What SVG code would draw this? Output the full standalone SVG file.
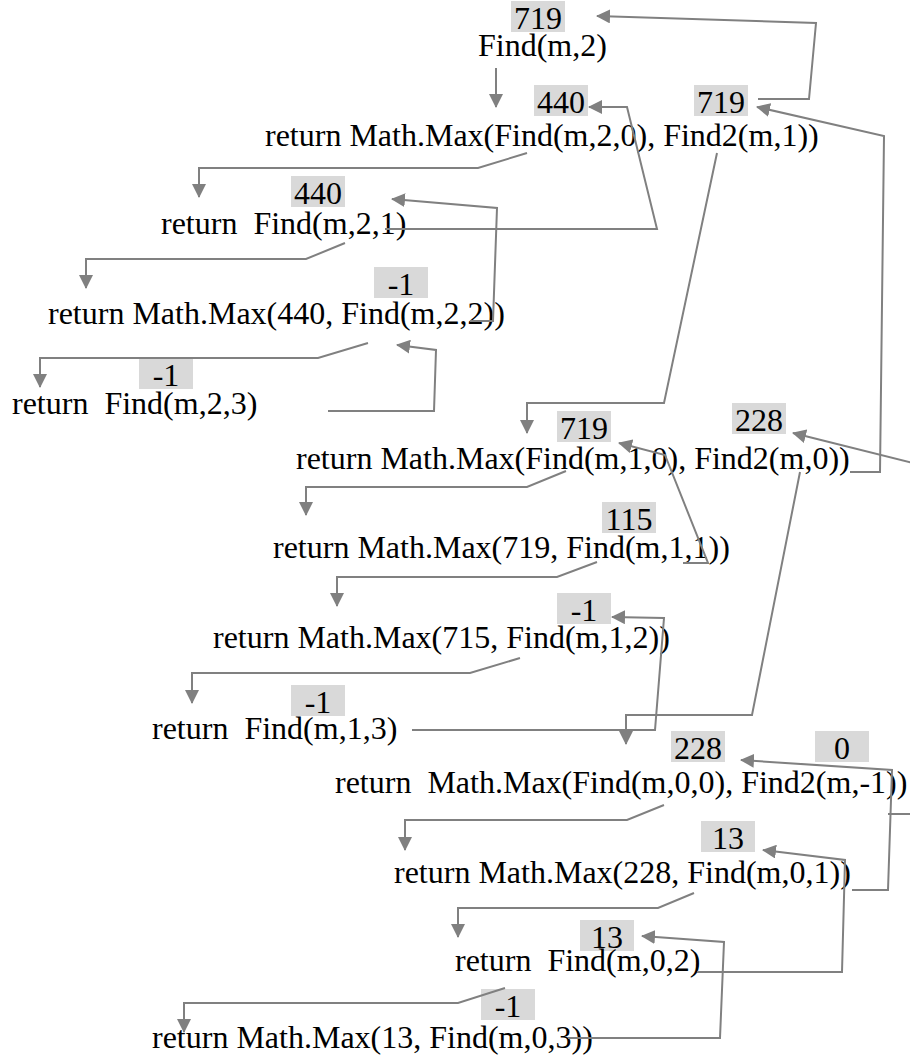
<svg xmlns="http://www.w3.org/2000/svg" width="910" height="1055" viewBox="0 0 910 1055">
<style>
text{font-family:"Liberation Serif","Times New Roman",serif;font-size:32px;fill:#000;white-space:pre}
.lbl{fill:#d9d9d9}
.v{text-anchor:middle}
.c{fill:none;stroke:#808080;stroke-width:2;marker-end:url(#ah)}
.s{fill:none;stroke:#808080;stroke-width:2}
</style>
<defs>
<marker id="ah" markerUnits="userSpaceOnUse" markerWidth="14" markerHeight="14" viewBox="0 0 14 14" refX="13" refY="7" orient="auto">
<path d="M0,0 L14,7 L0,14 z" fill="#808080"/>
</marker>
</defs>
<rect width="910" height="1055" fill="#fff"/>

<g id="n1">
<rect class="lbl" x="511" y="1" width="54" height="31"/><text class="v" x="538" y="29">719</text>
<text x="478" y="56">Find(m,2)</text>
</g>
<g id="n2">
<rect class="lbl" x="534" y="85" width="54" height="31"/><text class="v" x="561" y="113">440</text>
<rect class="lbl" x="694" y="85" width="54" height="31"/><text class="v" x="721" y="113">719</text>
<text x="265" y="146">return Math.Max(Find(m,2,0), Find2(m,1))</text>
</g>
<g id="n3">
<rect class="lbl" x="291" y="176" width="54" height="31"/><text class="v" x="318" y="204">440</text>
<text x="161" y="234" xml:space="preserve">return  Find(m,2,1)</text>
</g>
<g id="n4">
<rect class="lbl" x="374" y="267" width="54" height="31"/><text class="v" x="401" y="295">-1</text>
<text x="48" y="324">return Math.Max(440, Find(m,2,2))</text>
</g>
<g id="n5">
<rect class="lbl" x="139" y="358" width="54" height="31"/><text class="v" x="166" y="386">-1</text>
<text x="12" y="414" xml:space="preserve">return  Find(m,2,3)</text>
</g>
<g id="n6">
<rect class="lbl" x="557" y="411" width="54" height="31"/><text class="v" x="584" y="439">719</text>
<rect class="lbl" x="732" y="403" width="54" height="31"/><text class="v" x="759" y="431">228</text>
<text x="296" y="469">return Math.Max(Find(m,1,0), Find2(m,0))</text>
</g>
<g id="n7">
<rect class="lbl" x="602" y="502" width="54" height="31"/><text class="v" x="629" y="530">115</text>
<text x="273" y="558">return Math.Max(719, Find(m,1,1))</text>
</g>
<g id="n8">
<rect class="lbl" x="557" y="593" width="54" height="31"/><text class="v" x="584" y="621">-1</text>
<text x="213" y="648">return Math.Max(715, Find(m,1,2))</text>
</g>
<g id="n9">
<rect class="lbl" x="291" y="685" width="54" height="31"/><text class="v" x="318" y="713">-1</text>
<text x="152" y="739" xml:space="preserve">return  Find(m,1,3)</text>
</g>
<g id="n10">
<rect class="lbl" x="671" y="731" width="54" height="31"/><text class="v" x="698" y="759">228</text>
<rect class="lbl" x="815" y="731" width="54" height="31"/><text class="v" x="842" y="759">0</text>
<text x="335" y="793" xml:space="preserve">return  Math.Max(Find(m,0,0), Find2(m,-1))</text>
</g>
<g id="n11">
<rect class="lbl" x="701" y="821" width="54" height="31"/><text class="v" x="728" y="849">13</text>
<text x="394" y="883">return Math.Max(228, Find(m,0,1))</text>
</g>
<g id="n12">
<rect class="lbl" x="580" y="920" width="54" height="31"/><text class="v" x="607" y="948">13</text>
<text x="455" y="971" xml:space="preserve">return  Find(m,0,2)</text>
</g>
<g id="n13">
<rect class="lbl" x="481" y="989" width="54" height="31"/><text class="v" x="508" y="1017">-1</text>
<text x="152" y="1048">return Math.Max(13, Find(m,0,3))</text>
</g>

<g id="connectors">
<path class="c" d="M496,68 L496,107"/>
<path class="c" d="M758,99 L809,99 L816,23 L597,16"/>
<path class="c" d="M527,153 L478,168 L199,168 L199,197"/>
<path class="c" d="M385,229 L657,229 L627,107 L589,107"/>
<path class="c" d="M717,153 L664,403 L527,403 L527,433"/>
<path class="c" d="M345,243 L306,259 L86,259 L86,288"/>
<path class="c" d="M470,321 L493,321 L497,208 L392,199"/>
<path class="c" d="M368,343 L318,358 L40,358 L40,387"/>
<path class="c" d="M328,411 L434,411 L436,350 L397,345"/>
<path class="c" d="M850,472 L880,472 L884,136 L757,107"/>
<path class="c" d="M566,471 L527,487 L306,487 L306,515"/>
<path class="c" d="M683,563 L708,563 L665,455 L619,443"/>
<path class="c" d="M800,472 L752,715 L626,715 L626,744"/>
<path class="c" d="M597,562 L557,577 L337,577 L337,606"/>
<path class="c" d="M412,730 L655,730 L664,618 L612,617"/>
<path class="c" d="M520,658 L470,673 L192,673 L192,703"/>
<path class="c" d="M888,814 L925,814 L925,466 L793,433"/>
<path class="c" d="M852,890 L888,890 L892,770 L741,760"/>
<path class="c" d="M664,805 L627,820 L405,820 L405,850"/>
<path class="c" d="M697,972 L842,972 L845,860 L763,850"/>
<path class="c" d="M694,893 L658,908 L458,908 L458,937"/>
<path class="c" d="M505,988 L458,1003 L184,1003 L184,1032"/>
<path class="c" d="M568,1038 L720,1038 L724,942 L642,936"/>
</g>
</svg>
